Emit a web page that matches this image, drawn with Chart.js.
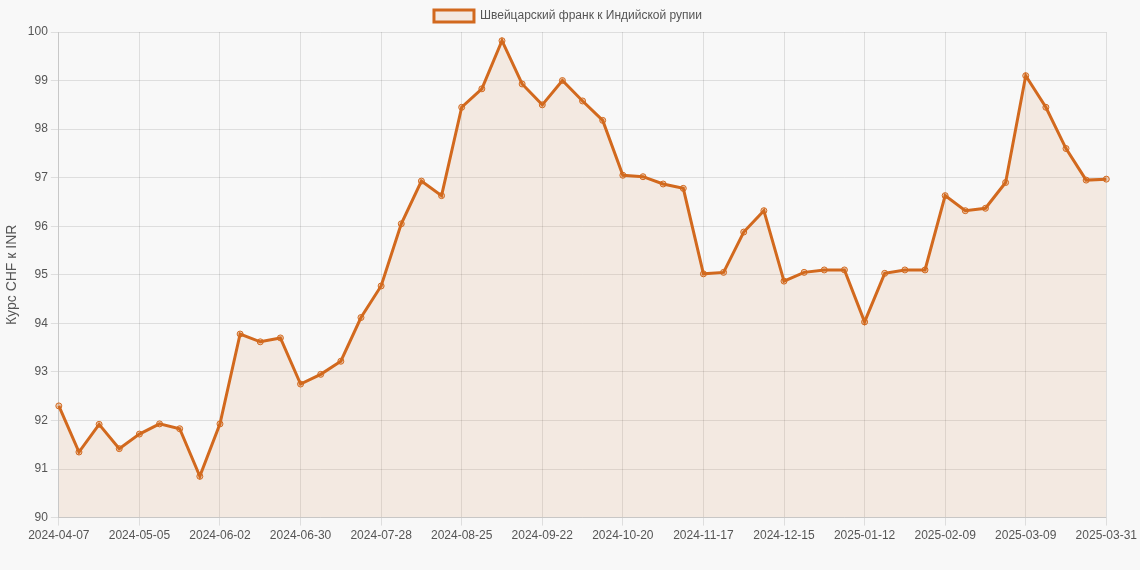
<!DOCTYPE html>
<html><head><meta charset="utf-8">
<script src="https://cdn.jsdelivr.net/npm/chart.js@4"></script>
<style>html,body{margin:0;background:#f8f8f8;}#w{width:1140px;height:570px;}</style>
</head><body><div id="w"><canvas id="c"></canvas></div>
<script>
const startDate = '2024-04-07';
const lastLabel = '2025-03-31';
const seriesName = 'Швейцарский франк к Индийской рупии';
const yTitle = 'Курс CHF к INR';
const rates = [92.3,91.35,91.92,91.42,91.72,91.93,91.83,90.85,91.93,93.78,93.62,93.7,92.75,92.95,93.22,94.12,94.77,96.05,96.93,96.63,98.45,98.83,99.82,98.93,98.5,99.0,98.58,98.18,97.05,97.02,96.87,96.78,95.02,95.05,95.88,96.32,94.87,95.05,95.1,95.1,94.03,95.03,95.1,95.1,96.63,96.32,96.37,96.9,99.1,98.45,97.6,96.95,96.97];
const labels = [];
{ const d0 = new Date(startDate+'T00:00:00Z');
  for (let i=0;i<rates.length;i++){ const d=new Date(d0.getTime()+i*7*864e5); labels.push(d.toISOString().slice(0,10)); }
  labels[labels.length-1]=lastLabel; }
const F = 'Liberation Sans, Arial, sans-serif';
new Chart(document.getElementById('c'),{
  type:'line',
  data:{labels,datasets:[{label:seriesName,data:rates,borderColor:'#d2691e',backgroundColor:'rgba(210,105,30,0.1)',fill:true,borderWidth:3,pointRadius:3,pointBackgroundColor:'rgba(210,105,30,0.3)',pointBorderColor:'#d2691e',pointBorderWidth:1,tension:0}]},
  options:{responsive:true,maintainAspectRatio:false,animation:false,
    layout:{padding:{right:4,bottom:24}},
    plugins:{legend:{labels:{color:'#555',font:{family:F,size:12}}}},
    scales:{
      x:{ticks:{autoSkip:false,maxRotation:0,color:'#555',font:{family:F,size:12},callback:(v,i)=> i%4===0?labels[i]:''},
         grid:{color:(c)=> (c.index%4===0)?'rgba(0,0,0,0.1)':'transparent'}},
      y:{min:90,max:100,ticks:{stepSize:1,color:'#555',font:{family:F,size:12}},title:{display:true,text:yTitle,color:'#555',font:{family:F,size:14}},grid:{color:'rgba(0,0,0,0.1)'}}
    }}
});
</script></body></html>
